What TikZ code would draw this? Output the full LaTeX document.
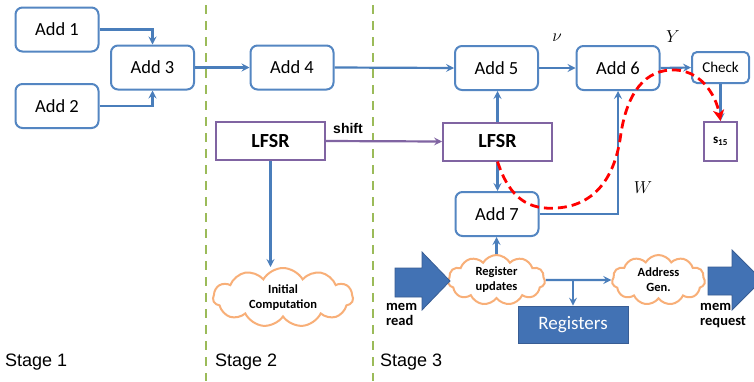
\documentclass[tikz,border=0pt]{standalone}
\usepackage{fontspec}
\setmainfont{Carlito}
\newfontfamily\arialf{Liberation Sans}
\usetikzlibrary{arrows.meta,shapes.symbols}
\definecolor{boxblue}{RGB}{84,134,194}
\definecolor{arrblue}{RGB}{74,126,187}
\definecolor{lpurple}{RGB}{128,100,162}
\definecolor{sgreen}{RGB}{155,187,89}
\definecolor{corange}{RGB}{248,175,120}
\definecolor{blkblue}{RGB}{66,114,180}
\definecolor{blkedge}{RGB}{56,93,148}
\tikzset{
  addbox/.style={draw=boxblue, line width=2pt, rounded corners=7pt, minimum width=83pt, minimum height=44pt, inner sep=0pt, font=\fontsize{18.5}{20}\selectfont},
  lfsrbox/.style={draw=lpurple, line width=2pt, minimum width=109pt, minimum height=38pt, inner sep=0pt, font=\fontsize{20}{22}\selectfont\bfseries},
  cloudn/.style={cloud, cloud puffs=11, cloud puff arc=120, cloud ignores aspect, draw=corange, line width=2pt, inner sep=0pt, align=center, font=\fontsize{12.5}{15}\selectfont\bfseries},
  conn/.style={draw=arrblue, line width=2.2pt, -{Stealth[length=8pt,width=8pt,inset=3pt]}},
  pconn/.style={draw=lpurple, line width=2.2pt, -{Stealth[length=8pt,width=8pt,inset=3pt]}},
  stagediv/.style={draw=sgreen, line width=2.8pt, dash pattern=on 9pt off 7pt},
  stagelbl/.style={anchor=west, inner sep=0pt, font=\arialf\fontsize{18}{20}\selectfont},
  memlbl/.style={anchor=north west, inner sep=0pt, align=left, font=\fontsize{14.5}{15.5}\selectfont\bfseries},
  blockarrow/.style={fill=blkblue, draw=blkedge, line width=0.8pt},
  mathlbl/.style={inner sep=0pt, font=\fontsize{18}{20}\selectfont}
}
\begin{document}
\begin{tikzpicture}[x=1pt,y=-1pt]
\clip (0,0) rectangle (754,381);
\fill[white] (0,0) rectangle (754,381);
% stage dividers
\draw[stagediv] (206,5) -- (206,381);
\draw[stagediv] (373,5) -- (373,381);
% nodes
\node[addbox] (add1) at (57,29.5) {Add 1};
\node[addbox] (add2) at (57,106) {Add 2};
\node[addbox] (add3) at (152.5,67.5) {Add 3};
\node[addbox] (add4) at (292,67.5) {Add 4};
\node[addbox] (add5) at (496.5,68) {Add 5};
\node[addbox] (add6) at (618,68) {Add 6};
\node[addbox, minimum width=57pt, minimum height=31pt, rounded corners=5pt, font=\fontsize{15}{17}\selectfont] (check) at (720.5,67.5) {Check};
\node[draw=lpurple, line width=2pt, minimum width=33pt, minimum height=39pt, inner sep=0pt, font=\fontsize{13}{15}\selectfont\bfseries] (s15) at (720.5,141.5) {s\textsubscript{15}};
\node[lfsrbox] (lfsrA) at (270.5,141) {LFSR};
\node[lfsrbox] (lfsrB) at (497.5,141.5) {LFSR};
\node[addbox] (add7) at (497,214) {Add 7};
\node[cloudn, minimum width=140pt, minimum height=59pt] (cloudA) at (283,297.5) {Initial\\Computation};
\node[cloudn, minimum width=97pt, minimum height=50pt] (cloudB) at (496.5,280) {Register\\updates};
\node[cloudn, minimum width=93pt, minimum height=50pt] (cloudC) at (658.5,280) {Address\\Gen.};
\node[fill=blkblue, draw=blkedge, line width=0.8pt, minimum width=110pt, minimum height=37pt, inner sep=0pt, text=white, font=\fontsize{19}{21}\selectfont] (regs) at (573,324.5) {Registers};
% labels
\node[stagelbl] (st1) at (5,362) {Stage 1};
\node[stagelbl] (st2) at (215,362) {Stage 2};
\node[stagelbl] (st3) at (380,362) {Stage 3};
\node[inner sep=0pt, font=\arialf\fontsize{14}{16}\selectfont\bfseries] (shiftl) at (348,128) {shift};
\node[mathlbl] (nul) at (557,38) {$\nu$};
\node[mathlbl] (yl) at (673,37) {$Y$};
\node[mathlbl] (wl) at (643,188) {$W$};
\node[memlbl] (mrd) at (386,303) {mem\\read};
\node[memlbl] (mrq) at (700,303) {mem\\request};
% block arrows
\draw[blockarrow] (395,268) -- (422,268) -- (422,252) -- (450,281) -- (422,310) -- (422,297) -- (395,297) -- cycle;
\draw[blockarrow] (708,267) -- (732,267) -- (732,250) -- (762,280) -- (732,310) -- (732,295) -- (708,295) -- cycle;
% connectors
\draw[conn] (add1.east) -| (add3.north);
\draw[conn] (add2.east) -| (add3.south);
\draw[conn] (add3.east) -- (add4.west);
\draw[conn] (add4.east) -- (add5.west);
\draw[conn] (add5.east) -- (add6.west);
\draw[conn] (add6.east) -- (check.west);
\draw[conn] (check.south) -- (s15.north);
\draw[pconn] (lfsrA.east) -- (lfsrB.west);
\draw[conn] (lfsrA.south) -- (lfsrA.south |- cloudA.north);
\draw[conn] (lfsrB.north) -- (lfsrB.north |- add5.south);
\draw[conn] (lfsrB.south) -- (lfsrB.south |- add7.north);
\draw[conn] (add7.east) -| (add6.south);
\draw[conn] (cloudB.north) -- (cloudB.north |- add7.south);
\draw[conn] (cloudB.east) -- (cloudC.west);
\coordinate (br) at (573,280);
\draw[conn] (br) -- (regs.north);
% red dashed path
\draw[red, line width=2.8pt, dash pattern=on 9pt off 5pt, -{Stealth[length=11pt,width=11pt,inset=3pt]}]
  (lfsrB.south) .. controls (510,200) and (530,210) .. (557,208)
  .. controls (600,205) and (615,170) .. (620,140)
  .. controls (625,100) and (640,72) .. (670,70)
  .. controls (700,68) and (716,95) .. (s15.north);
\end{tikzpicture}
\end{document}
